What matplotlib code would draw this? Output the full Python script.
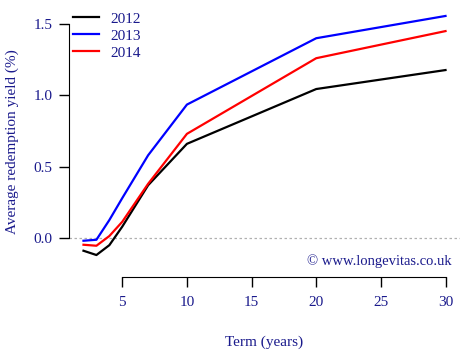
import matplotlib
matplotlib.use("Agg")
import matplotlib.pyplot as plt

term = [2, 3, 4, 5, 7, 10, 20, 30]
y2012 = [-0.089, -0.119, -0.05, 0.08, 0.37, 0.66, 1.044, 1.177]
y2013 = [-0.019, -0.012, 0.126, 0.28, 0.58, 0.935, 1.40, 1.556]
y2014 = [-0.047, -0.054, 0.014, 0.114, 0.38, 0.73, 1.26, 1.45]
series = [("2012", y2012, "black"), ("2013", y2013, "blue"), ("2014", y2014, "red")]
xticks = [5, 10, 15, 20, 25, 30]
yticks = [0.0, 0.5, 1.0, 1.5]

txt = "#1a1a8c"
fs = 11
plt.rcParams['font.family'] = ['Liberation Serif', 'DejaVu Serif']
plt.rcParams['font.size'] = fs

W, H = 470, 350
fig = plt.figure(figsize=(4.7, 3.5), dpi=100)
ax = fig.add_axes([69 / W, (H - 277) / H, (460 - 69) / W, (277 - 6.4) / H])
ax.set_xlim(0.88, 31.12)
ax.set_ylim(-0.273, 1.623)

ax.axhline(0, color="#b0b0b0", lw=0.9, ls=(0, (2, 2)))
for name, vals, col in series:
    ax.plot(term, vals, color=col, lw=1.6, label=name)

for s in ["top", "right"]:
    ax.spines[s].set_visible(False)
ax.spines["left"].set_bounds(0, 1.5)
ax.spines["bottom"].set_bounds(5, 30)
ax.set_xticks(xticks)
ax.set_yticks(yticks)
ax.set_yticklabels([f"{v:.1f}" for v in yticks])
ax.tick_params(length=7, width=1, colors="black", labelcolor=txt, labelsize=fs)
ax.tick_params(axis="x", pad=7)
ax.tick_params(axis="y", pad=5)
ax.set_xlabel("Term (years)", color=txt, fontsize=fs, labelpad=19)
ax.set_ylabel("Average redemption yield (%)", color=txt, fontsize=fs, labelpad=10)

leg = ax.legend(loc="upper left", bbox_to_anchor=(73 / W, 1 - 12 / H), bbox_transform=fig.transFigure,
                frameon=False, handlelength=1.7, handletextpad=0.75, labelspacing=0.22,
                borderpad=0, borderaxespad=0)
for t in leg.get_texts():
    t.set_color(txt)

fig.text(452 / W, 1 - 261 / H, "© www.longevitas.co.uk", ha="right", va="center", color=txt, fontsize=10.5)

fig.savefig("out.png", dpi=100)
